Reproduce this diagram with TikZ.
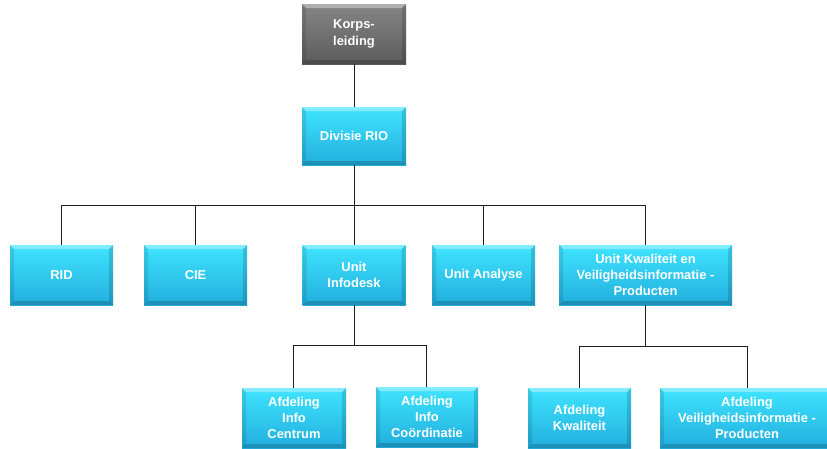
\documentclass[tikz,border=0pt]{standalone}
\usepackage{fontspec}
\setmainfont{Liberation Sans}
\begin{document}
\definecolor{boxtop}{HTML}{3FE4FF}
\definecolor{boxbot}{HTML}{22AEDD}
\definecolor{greytop}{HTML}{858585}
\definecolor{greybot}{HTML}{5C5C5C}
\definecolor{linecol}{HTML}{1E1E1E}
\begin{tikzpicture}[x=1pt,y=-1pt,
  orgbox/.style={rectangle, inner sep=0pt, align=center, text=white,
    font=\bfseries\fontsize{12.9}{16.3}\selectfont,
    top color=boxtop, bottom color=boxbot, shading angle=0,
    path picture={
      % bevelled edges: light top, darker sides and bottom
      \fill[white,opacity=0.35] (path picture bounding box.north west) -- (path picture bounding box.north east)
        -- ([xshift=-4pt,yshift=-4pt]path picture bounding box.north east) -- ([xshift=4pt,yshift=-4pt]path picture bounding box.north west) -- cycle;
      \fill[black,opacity=0.18] (path picture bounding box.south west) -- (path picture bounding box.south east)
        -- ([xshift=-4pt,yshift=4pt]path picture bounding box.south east) -- ([xshift=4pt,yshift=4pt]path picture bounding box.south west) -- cycle;
      \fill[black,opacity=0.10] (path picture bounding box.north west) -- ([xshift=4pt,yshift=-4pt]path picture bounding box.north west)
        -- ([xshift=4pt,yshift=4pt]path picture bounding box.south west) -- (path picture bounding box.south west) -- cycle;
      \fill[black,opacity=0.14] (path picture bounding box.north east) -- ([xshift=-4pt,yshift=-4pt]path picture bounding box.north east)
        -- ([xshift=-4pt,yshift=4pt]path picture bounding box.south east) -- (path picture bounding box.south east) -- cycle;
    }},
  greybox/.style={orgbox, top color=greytop, bottom color=greybot},
  link/.style={draw=linecol, line width=1pt}
]
\useasboundingbox (0,0) rectangle (827,448);

% top of the organisation
\node[greybox, minimum width=104pt, minimum height=60pt] (korps) at (354,34) {Korps-\\leiding};
\node[orgbox, minimum width=104pt, minimum height=58pt] (rio) at (354,136) {Divisie RIO};

% units
\node[orgbox, minimum width=103pt, minimum height=60pt] (rid) at (61.5,275) {RID};
\node[orgbox, minimum width=103pt, minimum height=60pt] (cie) at (195.5,275) {CIE};
\node[orgbox, minimum width=103pt, minimum height=60pt] (infodesk) at (354,275) {Unit\\Infodesk};
\node[orgbox, minimum width=103pt, minimum height=60pt] (analyse) at (483.5,275) {Unit Analyse};
\node[orgbox, minimum width=173pt, minimum height=60pt] (kwal) at (645.5,275) {Unit Kwaliteit en\\Veiligheidsinformatie -\\Producten};

% departments
\node[orgbox, minimum width=104pt, minimum height=60pt] (centrum) at (294,418) {Afdeling\\Info\\Centrum};
\node[orgbox, minimum width=102pt, minimum height=60pt] (coord) at (427,417) {Afdeling\\Info\\Coördinatie};
\node[orgbox, minimum width=103pt, minimum height=60pt] (afdkwal) at (579.5,418) {Afdeling\\Kwaliteit};
\node[orgbox, minimum width=174pt, minimum height=60pt] (afdveil) at (747,418) {Afdeling\\Veiligheidsinformatie -\\Producten};

% junction points of the connector buses
\coordinate (bus) at (354,205);
\coordinate (busA) at (354,345);
\coordinate (busB) at (645.5,346);

% connectors
\draw[link] (korps.south) -- (rio.north);
\draw[link] (rio.south) -- (bus);
\draw[link] (rid.north) -- (rid.north |- bus) -- (kwal.north |- bus) -- (kwal.north);
\draw[link] (cie.north) -- (cie.north |- bus);
\draw[link] (infodesk.north) -- (infodesk.north |- bus);
\draw[link] (analyse.north) -- (analyse.north |- bus);

\draw[link] (infodesk.south) -- (busA);
\draw[link] ([xshift=-0.5pt]centrum.north) -- ([xshift=-0.5pt]centrum.north |- busA) -- ([xshift=-1pt]coord.north |- busA) -- ([xshift=-1pt]coord.north);

\draw[link] (kwal.south) -- (busB);
\draw[link] ([xshift=-0.5pt]afdkwal.north) -- ([xshift=-0.5pt]afdkwal.north |- busB) -- (afdveil.north |- busB) -- (afdveil.north);
\end{tikzpicture}
\end{document}
